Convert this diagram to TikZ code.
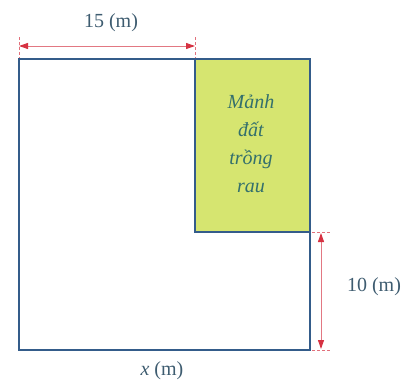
\documentclass[tikz,border=0pt]{standalone}
\usepackage{fontspec}
\setmainfont{Liberation Serif}
\usetikzlibrary{arrows.meta}
\definecolor{edge}{RGB}{52,92,138}
\definecolor{plot}{RGB}{214,229,112}
\definecolor{plottext}{RGB}{52,112,108}
\definecolor{labeltext}{RGB}{62,92,112}
\definecolor{dimred}{RGB}{214,50,66}
\definecolor{dimline}{RGB}{226,120,130}
\tikzset{
  border/.style={draw=edge, line width=1.8pt},
  dimarrow/.style={draw=dimline, line width=1pt, {Triangle[length=9pt,width=6pt,color=dimred]}-{Triangle[length=9pt,width=6pt,color=dimred]}},
  tick/.style={draw=dimred!70, line width=0.6pt, densely dashed},
  lbl/.style={text=labeltext, font=\fontsize{20}{22}\selectfont, inner sep=0pt},
  plotlbl/.style={text=plottext, font=\fontsize{20}{28}\selectfont\itshape, align=center, inner sep=0pt}
}
\begin{document}
\begin{tikzpicture}[x=1pt,y=-1pt]
\useasboundingbox (0,0) rectangle (416,383);
\coordinate (A) at (19,59);
\coordinate (B) at (310,59);
\coordinate (C) at (310,350);
\coordinate (D) at (19,350);
\coordinate (G1) at (195,59);
\coordinate (G2) at (310,232);
\fill[plot] (G1) rectangle (G2);
\draw[border] (A) rectangle (C);
\draw[border] (G1) rectangle (G2);
\node[plotlbl] (plotname) at (251,144) {Mảnh\\đất\\trồng\\rau};
% top dimension
\coordinate (t1) at (19,46);
\coordinate (t2) at (195,46);
\draw[tick] (19,37) -- (19,58);
\draw[tick] (195,37) -- (195,58);
\draw[dimarrow] (t1) -- (t2);
\node[lbl] (w) at (111,23) {15 (m)};
% right dimension
\coordinate (r1) at (321,233);
\coordinate (r2) at (321,349);
\draw[tick] (312,232) -- (330,232);
\draw[tick] (312,350) -- (330,350);
\draw[dimarrow] (r1) -- (r2);
\node[lbl] (h) at (374,287) {10 (m)};
% bottom label
\node[lbl] (x) at (162,371) {\textit{x} (m)};
\end{tikzpicture}
\end{document}
